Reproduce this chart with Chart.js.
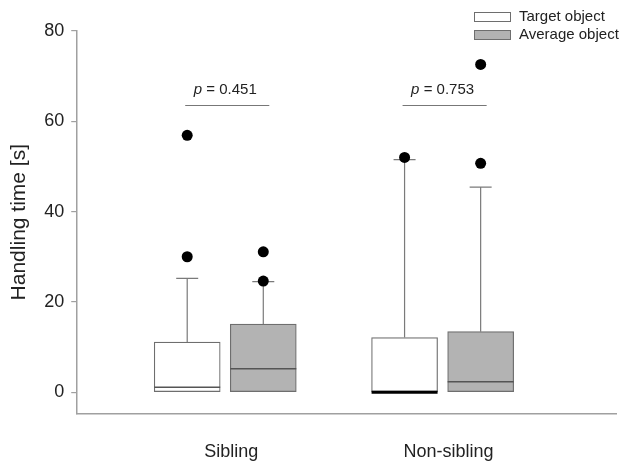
<!DOCTYPE html>
<html>
<head>
<meta charset="utf-8">
<script src="https://cdn.jsdelivr.net/npm/chart.js@4.4.0/dist/chart.umd.min.js"></script>
<style>
  html, body { margin: 0; padding: 0; background: #fff; }
  #wrap { width: 622px; height: 464px; }
</style>
</head>
<body>
<div id="wrap"><canvas id="myChart"></canvas></div>
<script>
// data
const categories = ['Sibling', 'Non-sibling'];
const yTicks = [0, 20, 40, 60, 80];
const seriesNames = ['Target object', 'Average object'];

const targetQ1 = [0, 0];
const targetMedian = [1.1, 0];
const targetQ3 = [11.1, 12.1];
const targetWhiskerHigh = [25.2, 51.5];
const targetOutliers = [[30.0, 56.9], [52.0]];

const averageQ1 = [0, 0];
const averageMedian = [5.2, 2.3];
const averageQ3 = [15.1, 13.4];
const averageWhiskerHigh = [24.5, 45.4];
const averageOutliers = [[24.6, 31.1], [50.7, 72.6]];

const pValues = ['0.451', '0.753'];
const pBracketLevel = 63.5;

// layout bits
const groupOffset = 0.175;
const FONT = '"Liberation Sans", Arial, Helvetica, sans-serif';

const series = [
  { name: seriesNames[0], q1: targetQ1, med: targetMedian, q3: targetQ3, hi: targetWhiskerHigh, out: targetOutliers, fill: '#ffffff', side: -1 },
  { name: seriesNames[1], q1: averageQ1, med: averageMedian, q3: averageQ3, hi: averageWhiskerHigh, out: averageOutliers, fill: '#b3b3b3', side: 1 }
];

const boxDatasets = series.map(s => ({
  type: 'bar',
  label: s.name,
  data: categories.map((c, i) => ({ x: i + 1 + s.side * groupOffset, y: [s.q1[i], s.q3[i]] })),
  backgroundColor: s.fill,
  borderColor: '#6e6e6e',
  borderWidth: 1.2,
  borderSkipped: false,
  barThickness: 66,
  grouped: false,
  order: 2
}));

const outlierDatasets = series.map(s => {
  const pts = [];
  categories.forEach((c, i) => {
    s.out[i].forEach(v => pts.push({ x: i + 1 + s.side * groupOffset, y: v }));
  });
  return {
    type: 'scatter',
    label: s.name + ' outliers',
    data: pts,
    pointRadius: 5.5,
    pointBackgroundColor: '#000',
    pointBorderColor: '#000',
    pointBorderWidth: 0,
    order: 0
  };
});

const boxExtras = {
  id: 'boxExtras',
  afterDatasetDraw(chart, args) {
    // datasets 2 and 3 are the boxes
    if (args.index < 2) return;
    const s = series[args.index - 2];
    const { ctx } = chart;
    const y = chart.scales.y;
    ctx.save();
    args.meta.data.forEach((bar, i) => {
      const cx = bar.x;
      const half = bar.width / 2;
      const yQ3 = y.getPixelForValue(s.q3[i]);
      const yHi = y.getPixelForValue(s.hi[i]);
      const yMed = y.getPixelForValue(s.med[i]);
      // whisker + cap
      ctx.strokeStyle = '#7a7a7a';
      ctx.lineWidth = 1.2;
      ctx.beginPath();
      ctx.moveTo(cx, yQ3); ctx.lineTo(cx, yHi);
      ctx.moveTo(cx - 11, yHi); ctx.lineTo(cx + 11, yHi);
      ctx.stroke();
      // median
      ctx.strokeStyle = s.med[i] === s.q1[i] ? '#000' : '#555';
      ctx.lineWidth = s.med[i] === s.q1[i] ? 3 : 1.5;
      ctx.beginPath();
      ctx.moveTo(cx - half, yMed); ctx.lineTo(cx + half, yMed);
      ctx.stroke();
    });
    ctx.restore();
  },
  afterDraw(chart) {
    const { ctx } = chart;
    const x = chart.scales.x, y = chart.scales.y;
    ctx.save();
    // p-value brackets
    pValues.forEach((p, i) => {
      const x1 = x.getPixelForValue(i + 1 - groupOffset);
      const x2 = x.getPixelForValue(i + 1 + groupOffset) + 6;
      const yl = y.getPixelForValue(pBracketLevel);
      ctx.strokeStyle = '#777';
      ctx.lineWidth = 1.2;
      ctx.beginPath();
      ctx.moveTo(x1 - 2, yl); ctx.lineTo(x2, yl);
      ctx.stroke();
      ctx.fillStyle = '#222';
      ctx.textBaseline = 'alphabetic';
      ctx.font = 'italic 15px ' + FONT;
      const pw = ctx.measureText('p').width;
      ctx.font = '15px ' + FONT;
      const rest = ' = ' + p;
      const rw = ctx.measureText(rest).width;
      const cx = (x1 + x2) / 2 - 3;
      const left = cx - (pw + rw) / 2;
      ctx.font = 'italic 15px ' + FONT;
      ctx.fillText('p', left, yl - 11);
      ctx.font = '15px ' + FONT;
      ctx.fillText(rest, left + pw, yl - 11);
    });
    // legend
    series.forEach((s, i) => {
      const top = 12 + i * 18;
      ctx.fillStyle = s.fill;
      ctx.fillRect(474, top, 36, 9);
      ctx.strokeStyle = '#6e6e6e';
      ctx.lineWidth = 1;
      ctx.strokeRect(474.5, top + 0.5, 36, 9);
      ctx.fillStyle = '#222';
      ctx.font = '15px ' + FONT;
      ctx.textBaseline = 'middle';
      ctx.fillText(s.name, 519, top + 5);
    });
    ctx.restore();
  }
};

const ctx = document.getElementById('myChart').getContext('2d');
const myChart = new Chart(ctx, {
  type: 'bar',
  data: { datasets: [...outlierDatasets, ...boxDatasets] },
  options: {
    responsive: true,
    maintainAspectRatio: false,
    animation: false,
    events: [],
    layout: { padding: { left: 4, right: -3, top: 31, bottom: -27 } },
    plugins: {
      legend: { display: false },
      tooltip: { enabled: false }
    },
    scales: {
      x: {
        type: 'linear',
        offset: false,
        min: 0.319,
        max: 2.8,
        afterBuildTicks: scale => { scale.ticks = categories.map((c, i) => ({ value: i + 1 })); },
        ticks: {
          callback: v => categories[v - 1],
          autoSkip: false,
          maxRotation: 0,
          padding: 28,
          labelOffset: 6,
          color: '#222',
          font: { family: FONT, size: 18 }
        },
        grid: { display: false, drawTicks: false, offset: false },
        border: { color: '#a0a0a0', width: 1.5 }
      },
      y: {
        min: -4.7,
        max: 80,
        afterBuildTicks: scale => { scale.ticks = yTicks.map(v => ({ value: v })); },
        ticks: {
          padding: 7,
          color: '#222',
          font: { family: FONT, size: 18 }
        },
        grid: { drawOnChartArea: false, drawTicks: true, tickLength: 6, color: '#a0a0a0', lineWidth: 1.2 },
        border: { color: '#a0a0a0', width: 1.5 },
        title: {
          display: true,
          text: 'Handling time [s]',
          color: '#222',
          font: { family: FONT, size: 21 },
          padding: { top: 3, bottom: 5 }
        }
      }
    }
  },
  plugins: [boxExtras]
});
</script>
</body>
</html>
